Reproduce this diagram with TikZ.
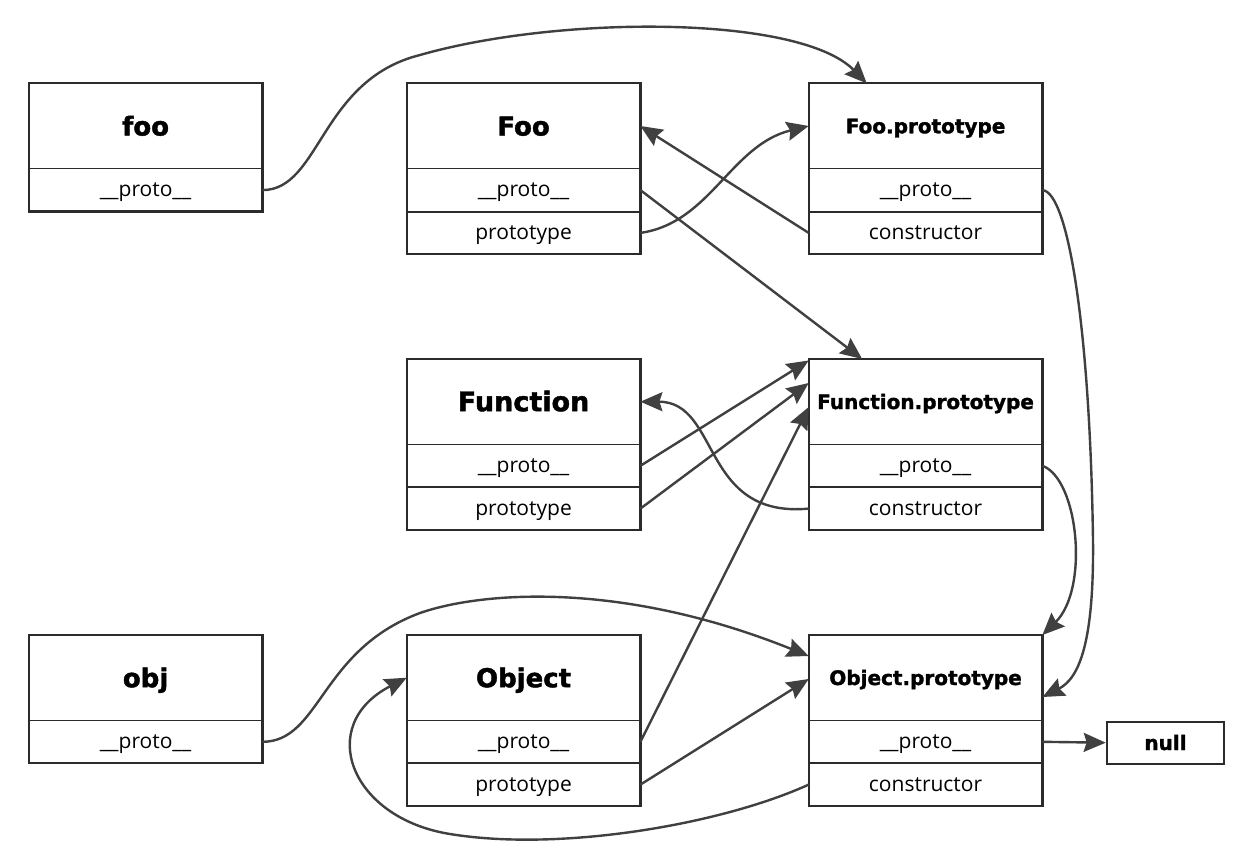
\documentclass[tikz,border=0pt]{standalone}
\usepackage{fontspec}
\setmainfont{Open Sans}
\newfontfamily\headfont{DejaVu Sans}[BoldFeatures={FakeBold=1.6}]
\usetikzlibrary{arrows.meta,calc}

\definecolor{boxline}{HTML}{2B2B2B}
\definecolor{linkgray}{HTML}{404040}

% #1 extra title style, #2 name, #3 top-left corner, #4 title, #5 first field
\newcommand{\fieldbox}[5][]{%
  \node[titlecell,#1] (#2T) at #3 {#4};
  \node[rowcell] (#2A) at (#2T.south) {#5};
  \draw[titlerule] (#2T.south west) -- (#2T.south east);
}
% #1 name, #2 second field
\newcommand{\extrafield}[2]{%
  \node[rowcell] (#1B) at (#1A.south) {#2};
  \draw[rowrule] (#1A.south west) -- (#1A.south east);
}

\begin{document}
\begin{tikzpicture}[x=1pt,y=-1pt,
  titlecell/.style={anchor=north west, minimum width=233.3pt, minimum height=85pt,
    inner sep=0pt, text height=19pt, text depth=0pt,
    font=\headfont\bfseries\fontsize{26}{30}\selectfont},
  protitle/.style={text height=14.6pt, font=\headfont\bfseries\fontsize{20}{24}\selectfont},
  rowcell/.style={anchor=north, minimum width=233.3pt, minimum height=42.4pt,
    inner sep=0pt, text height=15pt, text depth=2pt, font=\fontsize{21}{25}\selectfont},
  outline/.style={draw=boxline, line width=2.2pt},
  titlerule/.style={draw=boxline, line width=1.1pt},
  rowrule/.style={draw=boxline, line width=2pt},
  link/.style={draw=linkgray, line width=2.4pt,
    -{Stealth[length=22pt,width=19pt,inset=3pt]}}
]
\fill[white] (0,0) rectangle (1244,860);
\useasboundingbox (0,0) rectangle (1244,860);

% ---- objects ----
\fieldbox{inst}{(28.7,83.3)}{foo}{\_\_proto\_\_}
\draw[outline] (instT.north west) rectangle (instA.south east);

\fieldbox{ctor}{(406.7,83.3)}{Foo}{\_\_proto\_\_}
\extrafield{ctor}{prototype}
\draw[outline] (ctorT.north west) rectangle (ctorB.south east);

\fieldbox[protitle]{ctorp}{(808.7,83.3)}{Foo.prototype}{\_\_proto\_\_}
\extrafield{ctorp}{constructor}
\draw[outline] (ctorpT.north west) rectangle (ctorpB.south east);

\fieldbox[font=\headfont\bfseries\fontsize{27}{31}\selectfont]{fun}{(406.7,359)}{Function}{\_\_proto\_\_}
\extrafield{fun}{prototype}
\draw[outline] (funT.north west) rectangle (funB.south east);

\fieldbox[protitle]{funp}{(808.7,359)}{Function.prototype}{\_\_proto\_\_}
\extrafield{funp}{constructor}
\draw[outline] (funpT.north west) rectangle (funpB.south east);

\fieldbox{objI}{(28.7,635)}{obj}{\_\_proto\_\_}
\draw[outline] (objIT.north west) rectangle (objIA.south east);

\fieldbox{objC}{(406.7,635)}{Object}{\_\_proto\_\_}
\extrafield{objC}{prototype}
\draw[outline] (objCT.north west) rectangle (objCB.south east);

\fieldbox[protitle]{objp}{(808.7,635)}{Object.prototype}{\_\_proto\_\_}
\extrafield{objp}{constructor}
\draw[outline] (objpT.north west) rectangle (objpB.south east);

\node[anchor=north west, minimum width=117.6pt, minimum height=42pt, inner sep=0pt,
  text height=14.6pt, text depth=0pt, outline, line width=2pt,
  font=\headfont\bfseries\fontsize{20}{24}\selectfont] (nul) at (1105.7,720.7) {null};

% ---- links ----
\draw[link] (instA.east) .. controls +(58,0) and (320,80) .. (420,55)
  .. controls (560,15) and (800,15) .. ([xshift=58pt]ctorpT.north west);

\draw[link] (ctorpB.west) -- (ctorT.east);
\draw[link] (ctorB.east) .. controls +(70,-10) and +(-78,19) .. (ctorpT.west);
\draw[link] (ctorA.east) -- ([xshift=53.5pt]funpT.north west);

\draw[link] (ctorpA.east) .. controls +(26,2) and (1090,330) .. (1093,540)
  .. controls (1094,640) and (1080,678) .. ([yshift=-62pt]objpT.north east);

\draw[link] (funA.east) -- ([yshift=-1.5pt]funpT.north west);
\draw[link] (funB.east) -- ([yshift=-24pt]funpT.north west);
\draw[link] (objCA.east) -- ([yshift=-48pt]funpT.north west);

\draw[link] (funpB.west) .. controls +(-108,10) and +(80,0) .. (funT.east);
\draw[link] (funpA.east) .. controls +(36,13) and +(47,-46) .. (objpT.north east);

\draw[link] (objIA.east) .. controls +(58,0) and (320,650) .. (420,613)
  .. controls (480,592) and (620,580) .. ([yshift=-21pt]objpT.north west);

\draw[link] (objpB.west) .. controls +(-88,40) and (560,852) .. (450,834)
  .. controls (350,818) and (315,725) .. (objCT.west);

\draw[link] (objCB.east) -- ([yshift=-44pt]objpT.north west);
\draw[link] (objpA.east) -- (nul.west);
\end{tikzpicture}
\end{document}
